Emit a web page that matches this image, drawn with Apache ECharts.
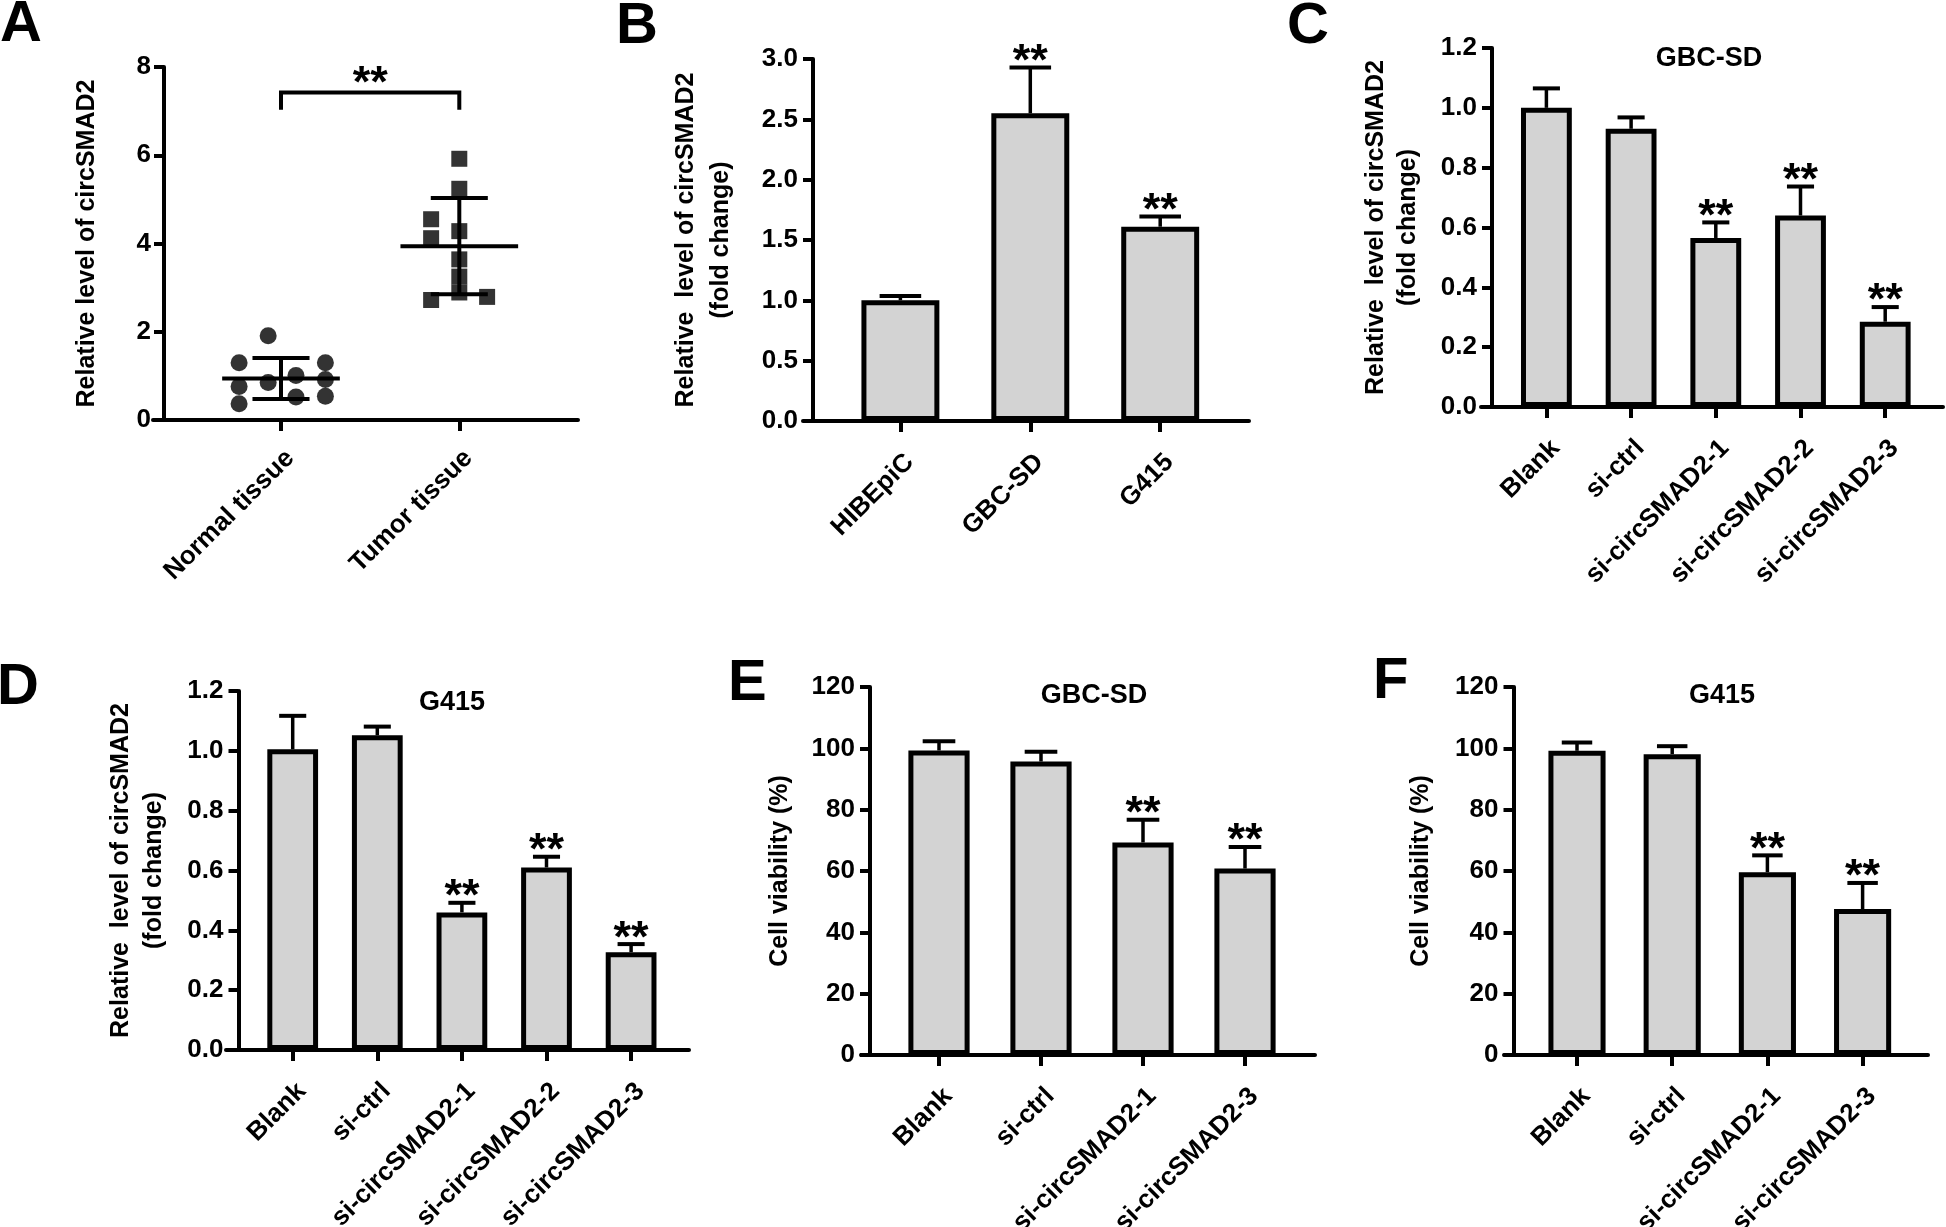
<!DOCTYPE html>
<html><head><meta charset="utf-8">
<script src="https://cdn.jsdelivr.net/npm/echarts@6/dist/echarts.min.js"></script>
<style>html,body{margin:0;padding:0;background:#fff}#c{width:1946px;height:1227px}</style>
</head><body><div id="c"></div>
<script>
// ---------------- DATA ----------------
// Panel A: scatter (individual samples), mean +/- SD
const aCategories = ['Normal tissue', 'Tumor tissue'];
const aNormalValues = [1.91, 1.30, 1.30, 1.01, 0.92, 0.85, 0.76, 0.52, 0.54, 0.37];
const aNormalJitter = [-0.072, -0.235, 0.249, 0.084, 0.249, -0.072, -0.235, 0.084, 0.249, -0.235];
const aTumorValues = [5.92, 5.24, 4.55, 4.28, 4.12, 3.64, 3.25, 2.89, 2.72, 2.79];
const aTumorJitter = [0, 0, -0.158, 0, -0.158, 0, 0, 0, -0.158, 0.156];
const aMeans = [0.94, 3.94];
const aSD = [0.465, 1.09];
const aBracket = [7.42, 7.03];
const aStars = '**';
const aYTicks = [0, 8, 2];

// Panel B
const bCategories = ['HIBEpiC', 'GBC-SD', 'G415'];
const bMeans = [1.0, 2.55, 1.61];
const bErrors = [0.035, 0.38, 0.085];
const bStars = ['', '**', '**'];
const bYTicks = [0, 3, 0.5];

// Panel C (GBC-SD)
const cCategories = ['Blank', 'si-ctrl', 'si-circSMAD2-1', 'si-circSMAD2-2', 'si-circSMAD2-3'];
const cMeans = [1.0, 0.93, 0.565, 0.64, 0.285];
const cErrors = [0.065, 0.038, 0.052, 0.097, 0.049];
const cStars = ['', '', '**', '**', '**'];
const cYTicks = [0, 1.2, 0.2];

// Panel D (G415)
const dCategories = ['Blank', 'si-ctrl', 'si-circSMAD2-1', 'si-circSMAD2-2', 'si-circSMAD2-3'];
const dMeans = [1.005, 1.052, 0.46, 0.61, 0.327];
const dErrors = [0.112, 0.029, 0.032, 0.036, 0.027];
const dStars = ['', '', '**', '**', '**'];
const dYTicks = [0, 1.2, 0.2];

// Panel E (GBC-SD viability)
const eCategories = ['Blank', 'si-ctrl', 'si-circSMAD2-1', 'si-circSMAD2-3'];
const eMeans = [99.3, 95.7, 69.3, 60.8];
const eErrors = [3.0, 3.2, 7.4, 7.0];
const eStars = ['', '', '**', '**'];
const eYTicks = [0, 120, 20];

// Panel F (G415 viability)
const fCategories = ['Blank', 'si-ctrl', 'si-circSMAD2-1', 'si-circSMAD2-3'];
const fMeans = [99.2, 98.1, 59.6, 47.6];
const fErrors = [2.7, 2.6, 5.5, 8.5];
const fStars = ['', '', '**', '**'];
const fYTicks = [0, 120, 20];

const yNameRel = 'Relative  level of circSMAD2\n(fold change)';
const yNameA = 'Relative level of circSMAD2';
const yNameViab = 'Cell viability (%)';

// ---------------- LAYOUT ----------------
const FONT = '"Liberation Sans", Arial, Helvetica, sans-serif';
const LW = 4;
const ELW = 3.5;
const BAR_COLOR = '#d3d3d3';

const layouts = {
  A: {axisStart: 153, axisEnd: 578, yAxisX: 164, top: 67, bottom: 420, firstTick: 281, spacing: 178.3, nameGap: 62, nameLH: 30, labelMargin: 25, tickMargin: 13},
  B: {axisStart: 803, axisEnd: 1249, yAxisX: 813, top: 59, bottom: 421, firstTick: 900.4, spacing: 129.9, nameGap: 74, nameLH: 35, labelMargin: 28, tickMargin: 15},
  C: {axisStart: 1481, axisEnd: 1943, yAxisX: 1492, top: 48, bottom: 407, firstTick: 1546.4, spacing: 84.7, nameGap: 68, nameLH: 32, labelMargin: 28, tickMargin: 15},
  D: {axisStart: 226, axisEnd: 689, yAxisX: 238.5, top: 691, bottom: 1050, firstTick: 292.7, spacing: 84.6, nameGap: 68, nameLH: 33, labelMargin: 28, tickMargin: 15},
  E: {axisStart: 861, axisEnd: 1315, yAxisX: 870, top: 687, bottom: 1055, firstTick: 939, spacing: 102, nameGap: 75, nameLH: 30, labelMargin: 28, tickMargin: 15},
  F: {axisStart: 1504, axisEnd: 1928, yAxisX: 1513.5, top: 687, bottom: 1055, firstTick: 1577, spacing: 95.2, nameGap: 77, nameLH: 30, labelMargin: 28, tickMargin: 15}
};

const grids = [], xAxes = [], yAxes = [], series = [], graphics = [];

function addPanel(L, cats, yTicks, decimals, yName) {
  const height = L.bottom - L.top;
  const innerLeft = L.firstTick - L.spacing / 2;
  const gO = grids.length;
  grids.push({left: L.axisStart, top: L.top, width: L.axisEnd - L.axisStart, height: height, containLabel: false, outerBoundsMode: 'none'});
  const gI = grids.length;
  grids.push({left: innerLeft, top: L.top, width: L.spacing * cats.length, height: height, containLabel: false, outerBoundsMode: 'none'});
  xAxes.push({type: 'value', gridIndex: gO, min: 0, max: 1,
    axisLine: {show: true, onZero: false, lineStyle: {color: '#000', width: LW}},
    axisTick: {show: false}, axisLabel: {show: false}, splitLine: {show: false}});
  const xI = xAxes.length;
  xAxes.push({type: 'category', gridIndex: gI, data: cats, boundaryGap: true,
    axisLine: {show: false, onZero: false},
    axisTick: {show: true, alignWithLabel: true, length: 11, lineStyle: {color: '#000', width: LW}},
    axisLabel: {rotate: 45, margin: L.labelMargin, interval: 0, align: 'right', verticalAlign: 'top',
      color: '#000', fontSize: 26, fontWeight: 'bold', fontFamily: FONT},
    splitLine: {show: false}});
  yAxes.push({type: 'value', gridIndex: gO, show: false, min: 0, max: 1});
  const yI = yAxes.length;
  yAxes.push({type: 'value', gridIndex: gI, min: yTicks[0], max: yTicks[1], interval: yTicks[2],
    offset: innerLeft - L.yAxisX,
    axisLine: {show: true, onZero: false, lineStyle: {color: '#000', width: LW}},
    axisTick: {show: true, length: 10, lineStyle: {color: '#000', width: LW}},
    axisLabel: {margin: L.tickMargin, color: '#000', fontSize: 26, fontWeight: 'bold', fontFamily: FONT,
      formatter: v => v.toFixed(decimals)},
    splitLine: {show: false},
    name: yName, nameLocation: 'middle', nameGap: L.nameGap,
    nameTextStyle: {color: '#000', fontSize: 25, fontWeight: 'bold', fontFamily: FONT, lineHeight: L.nameLH}});
  return {gI, xI, yI};
}

function textStyle(text, size, align) {
  return {text: text, fill: '#000', font: 'bold ' + size + 'px ' + FONT,
    textAlign: align, align: align, textVerticalAlign: 'middle', verticalAlign: 'middle'};
}

function errorBarRenderer(stars) {
  return function (params, api) {
    const i = api.value(0), m = api.value(1), e = api.value(2);
    const p0 = api.coord([i, m]);
    const p1 = api.coord([i, m + e]);
    const half = api.size([1, 0])[0] * 0.32 / 2;
    const children = [
      {type: 'line', shape: {x1: p0[0], y1: p0[1], x2: p1[0], y2: p1[1]}, style: {stroke: '#000', lineWidth: ELW}},
      {type: 'line', shape: {x1: p1[0] - half, y1: p1[1], x2: p1[0] + half, y2: p1[1]}, style: {stroke: '#000', lineWidth: ELW + 0.5}}
    ];
    const s = stars[params.dataIndex];
    if (s) children.push({type: 'text', x: p1[0], y: p1[1] - 5, style: textStyle(s, 45, 'center')});
    return {type: 'group', children: children};
  };
}

function addBars(P, means, errors, stars) {
  series.push({type: 'bar', xAxisIndex: P.xI, yAxisIndex: P.yI, data: means, barWidth: '60%',
    itemStyle: {color: BAR_COLOR, borderColor: '#000', borderWidth: 5}, silent: true});
  series.push({type: 'custom', xAxisIndex: P.xI, yAxisIndex: P.yI, silent: true, z: 5,
    data: means.map((m, i) => [i, m, errors[i]]),
    renderItem: errorBarRenderer(stars)});
}

// ----- Panel A -----
const PA = addPanel(layouts.A, aCategories, aYTicks, 0, yNameA);
const xAval = xAxes.length;
xAxes.push({type: 'value', gridIndex: PA.gI, min: -0.5, max: 1.5, show: false, axisLine: {onZero: false}});
series.push({type: 'scatter', xAxisIndex: xAval, yAxisIndex: PA.yI, symbol: 'circle', symbolSize: 17,
  itemStyle: {color: '#000'}, silent: true,
  data: aNormalValues.map((v, i) => [0 + aNormalJitter[i], v])});
series.push({type: 'scatter', xAxisIndex: xAval, yAxisIndex: PA.yI, symbol: 'rect', symbolSize: 16,
  itemStyle: {color: '#000'}, silent: true,
  data: aTumorValues.map((v, i) => [1 + aTumorJitter[i], v])});
series.push({type: 'custom', xAxisIndex: xAval, yAxisIndex: PA.yI, silent: true, z: 5,
  data: aMeans.map((m, i) => [i, m, aSD[i]]),
  renderItem: function (params, api) {
    const x = api.value(0), m = api.value(1), sd = api.value(2);
    const L1 = api.coord([x - 0.33, m]), R1 = api.coord([x + 0.33, m]);
    const top = api.coord([x, m + sd]), bot = api.coord([x, m - sd]);
    const cl = api.coord([x - 0.16, m]), cr = api.coord([x + 0.16, m]);
    const st = {stroke: '#000', lineWidth: LW};
    return {type: 'group', children: [
      {type: 'line', shape: {x1: L1[0], y1: L1[1], x2: R1[0], y2: R1[1]}, style: st},
      {type: 'line', shape: {x1: top[0], y1: top[1], x2: bot[0], y2: bot[1]}, style: st},
      {type: 'line', shape: {x1: cl[0], y1: top[1], x2: cr[0], y2: top[1]}, style: st},
      {type: 'line', shape: {x1: cl[0], y1: bot[1], x2: cr[0], y2: bot[1]}, style: st}
    ]};
  }});
series.push({type: 'custom', xAxisIndex: xAval, yAxisIndex: PA.yI, silent: true, z: 5,
  data: [[0, 1, aBracket[0], aBracket[1]]],
  renderItem: function (params, api) {
    const a = api.coord([api.value(0), api.value(2)]), b = api.coord([api.value(1), api.value(2)]);
    const a2 = api.coord([api.value(0), api.value(3)]), b2 = api.coord([api.value(1), api.value(3)]);
    const st = {stroke: '#000', lineWidth: LW, fill: 'none'};
    return {type: 'group', children: [
      {type: 'polyline', shape: {points: [a2, a, b, b2]}, style: st},
      {type: 'text', x: (a[0] + b[0]) / 2, y: a[1] - 8, style: textStyle(aStars, 45, 'center')}
    ]};
  }});

// ----- Panels B-F -----
const PB = addPanel(layouts.B, bCategories, bYTicks, 1, yNameRel);
addBars(PB, bMeans, bErrors, bStars);
const PC = addPanel(layouts.C, cCategories, cYTicks, 1, yNameRel);
addBars(PC, cMeans, cErrors, cStars);
const PD = addPanel(layouts.D, dCategories, dYTicks, 1, yNameRel);
addBars(PD, dMeans, dErrors, dStars);
const PE = addPanel(layouts.E, eCategories, eYTicks, 0, yNameViab);
addBars(PE, eMeans, eErrors, eStars);
const PF = addPanel(layouts.F, fCategories, fYTicks, 0, yNameViab);
addBars(PF, fMeans, fErrors, fStars);

// ----- panel letters & titles -----
const letters = [['A', 0, 25], ['B', 616, 27], ['C', 1287, 27], ['D', -3, 688], ['E', 728, 684], ['F', 1373, 682]];
letters.forEach(l => graphics.push({type: 'text', x: l[1], y: l[2], style: textStyle(l[0], 58, 'left')}));
const titles = [['GBC-SD', 1709, 59], ['G415', 452, 703], ['GBC-SD', 1094, 696], ['G415', 1722, 696]];
titles.forEach(t => graphics.push({type: 'text', x: t[1], y: t[2], style: textStyle(t[0], 27, 'center')}));

const chart = echarts.init(document.getElementById('c'), null, {renderer: 'canvas'});
chart.setOption({
  animation: false,
  backgroundColor: '#fff',
  grid: grids,
  xAxis: xAxes,
  yAxis: yAxes,
  series: series,
  graphic: graphics
});
</script>
</body></html>
